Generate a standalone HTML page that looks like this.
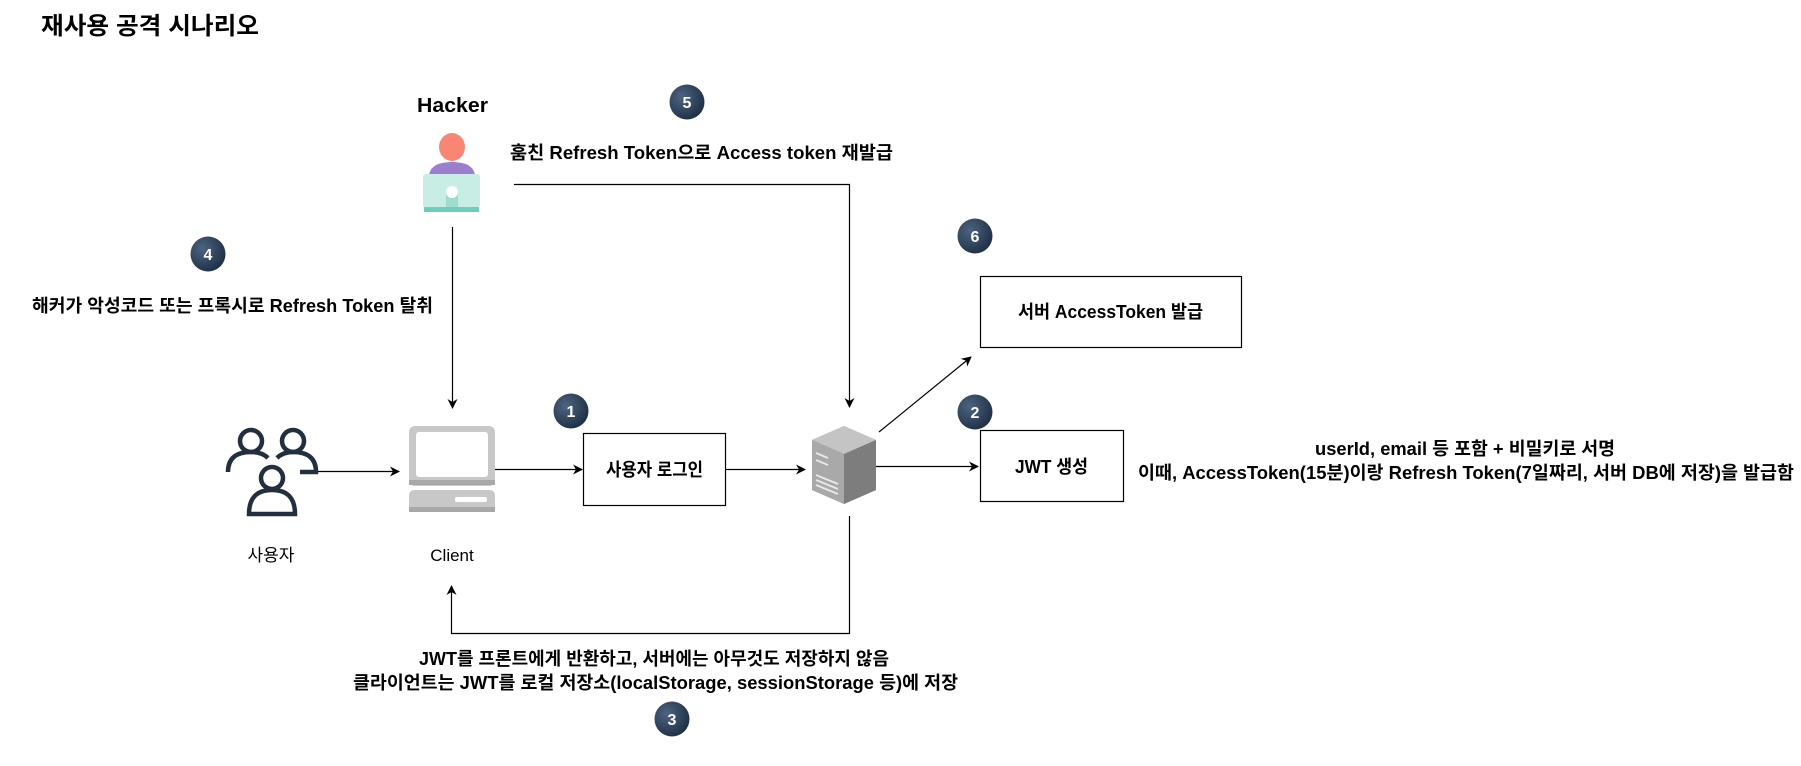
<!DOCTYPE html>
<html><head><meta charset="utf-8"><style>
html,body{margin:0;padding:0;background:#fff;}
svg{display:block;}
text{font-family:"Liberation Sans","Noto Sans CJK KR",sans-serif;}
</style></head><body>
<svg width="1801" height="766" viewBox="0 0 1801 766" xmlns="http://www.w3.org/2000/svg">
<defs>
<radialGradient id="bg" cx="35%" cy="35%" r="70%"><stop offset="0" stop-color="#4d6480"/><stop offset="1" stop-color="#1f3045"/></radialGradient>
<marker id="ar" markerWidth="10" markerHeight="10" refX="9" refY="5" orient="auto" markerUnits="userSpaceOnUse"><path d="M0,0 L10,5 L0,10 L3,5 z" fill="#000"/></marker>
</defs>
<text x="41" y="34" font-size="24" font-weight="bold" textLength="218" lengthAdjust="spacingAndGlyphs">재사용 공격 시나리오</text>

<!-- Hacker -->
<text x="417" y="112" font-size="20" font-weight="bold" textLength="71" lengthAdjust="spacingAndGlyphs">Hacker</text>
<ellipse cx="452" cy="147" rx="13" ry="14" fill="#f88673"/>
<path d="M429,175 Q431,162 452,162 Q473,162 475,175 z" fill="#9b7fcf"/>
<rect x="423" y="174" width="57" height="34" rx="3" fill="#c8ede5"/>
<rect x="446" y="192" width="12" height="16" fill="#9edccd"/>
<ellipse cx="452" cy="192" rx="6" ry="6" fill="#fff"/>
<rect x="424" y="207" width="55" height="5" fill="#6dcfb8"/>

<!-- badges -->
<g font-size="16" font-weight="bold" fill="#fff" text-anchor="middle">
<circle cx="687" cy="102" r="17.5" fill="url(#bg)"/><text x="687" y="108" fill="#fff">5</text>
<circle cx="208" cy="254" r="17.5" fill="url(#bg)"/><text x="208" y="260" fill="#fff">4</text>
<circle cx="571" cy="411" r="17.5" fill="url(#bg)"/><text x="571" y="417" fill="#fff">1</text>
<circle cx="975" cy="412" r="17.5" fill="url(#bg)"/><text x="975" y="418" fill="#fff">2</text>
<circle cx="975" cy="236" r="17.5" fill="url(#bg)"/><text x="975" y="242" fill="#fff">6</text>
<circle cx="672" cy="719" r="17.5" fill="url(#bg)"/><text x="672" y="725" fill="#fff">3</text>
</g>

<g font-size="18" font-weight="bold" lengthAdjust="spacingAndGlyphs">
<text x="510" y="159" textLength="383" lengthAdjust="spacingAndGlyphs">훔친 Refresh Token으로 Access token 재발급</text>
<text x="32" y="312" textLength="401" lengthAdjust="spacingAndGlyphs">해커가 악성코드 또는 프록시로 Refresh Token 탈취</text>
<text x="419" y="665" textLength="470" lengthAdjust="spacingAndGlyphs">JWT를 프론트에게 반환하고, 서버에는 아무것도 저장하지 않음</text>
<text x="353" y="689" textLength="605" lengthAdjust="spacingAndGlyphs">클라이언트는 JWT를 로컬 저장소(localStorage, sessionStorage 등)에 저장</text>
<text x="1315" y="455" textLength="300" lengthAdjust="spacingAndGlyphs">userId, email 등 포함 + 비밀키로 서명</text>
<text x="1138" y="479" textLength="656" lengthAdjust="spacingAndGlyphs">이때, AccessToken(15분)이랑 Refresh Token(7일짜리, 서버 DB에 저장)을 발급함</text>
<text x="1018" y="318" textLength="185" lengthAdjust="spacingAndGlyphs">서버 AccessToken 발급</text>
<text x="1015" y="473" textLength="73" lengthAdjust="spacingAndGlyphs">JWT 생성</text>
</g>

<!-- boxes -->
<rect x="583.5" y="433.5" width="142" height="72" fill="#fff" stroke="#000" stroke-width="1.2"/>
<text x="606" y="476" font-size="18" font-weight="bold" textLength="97" lengthAdjust="spacingAndGlyphs">사용자 로그인</text>
<rect x="980.5" y="276.5" width="261" height="71" fill="none" stroke="#000" stroke-width="1.2"/>
<rect x="980.5" y="430.5" width="143" height="71" fill="none" stroke="#000" stroke-width="1.2"/>

<!-- users icon -->
<g fill="none" stroke="#232f3e" stroke-width="4.5">
<circle cx="251" cy="441" r="11"/>
<path d="M228,472 Q228,452 251,452 Q262,452 268,458"/>
<circle cx="293" cy="441" r="11"/>
<path d="M277,458 Q283,452 293,452 Q316,452 316,472 L300,472"/>
<circle cx="272" cy="478" r="11"/>
<path d="M249,514 Q249,490 272,490 Q295,490 295,514 z"/>
</g>
<text x="271" y="561" font-size="17" text-anchor="middle">사용자</text>

<!-- client icon -->
<rect x="409" y="426" width="86" height="60" rx="6" fill="#c8c8c8"/>
<rect x="416" y="432" width="72" height="45" rx="3" fill="#fff"/>
<rect x="409" y="480" width="86" height="5" fill="#a8a8a8"/>
<rect x="409" y="490" width="86" height="22" rx="5" fill="#c8c8c8"/>
<rect x="409" y="507" width="86" height="5" fill="#a8a8a8"/>
<rect x="455" y="497" width="32" height="5" rx="2" fill="#fff"/>
<text x="452" y="561" font-size="17" text-anchor="middle">Client</text>

<!-- server icon -->
<polygon points="812,440 844,426 876,440 876,490 844,504 812,490" fill="#9a9a9a"/>
<polygon points="812,440 844,426 876,440 844,454" fill="#c4c4c4"/>
<polygon points="844,454 876,440 876,490 844,504" fill="#7d7d7d"/>
<polygon points="812,440 844,454 844,504 812,490" fill="#a9a9a9"/>
<g stroke="#e8e8e8" stroke-width="2">
<line x1="816" y1="453" x2="828" y2="458"/><line x1="816" y1="460" x2="828" y2="465"/>
<line x1="816" y1="475" x2="838" y2="484"/><line x1="816" y1="480" x2="838" y2="489"/><line x1="816" y1="485" x2="838" y2="494"/>
</g>

<!-- connectors -->
<g stroke="#000" stroke-width="1.2" fill="none" marker-end="url(#ar)">
<path d="M514,184.5 H849.5 V407"/>
<path d="M452.5,227 V408"/>
<path d="M318,471.5 H399"/>
<path d="M495,469.5 H582"/>
<path d="M726,469.5 H805"/>
<path d="M876,466.5 H978"/>
<path d="M849.5,516 V633.5 H451.5 V586"/>
<path d="M879,432 L971,357"/>
</g>
</svg>
</body></html>
